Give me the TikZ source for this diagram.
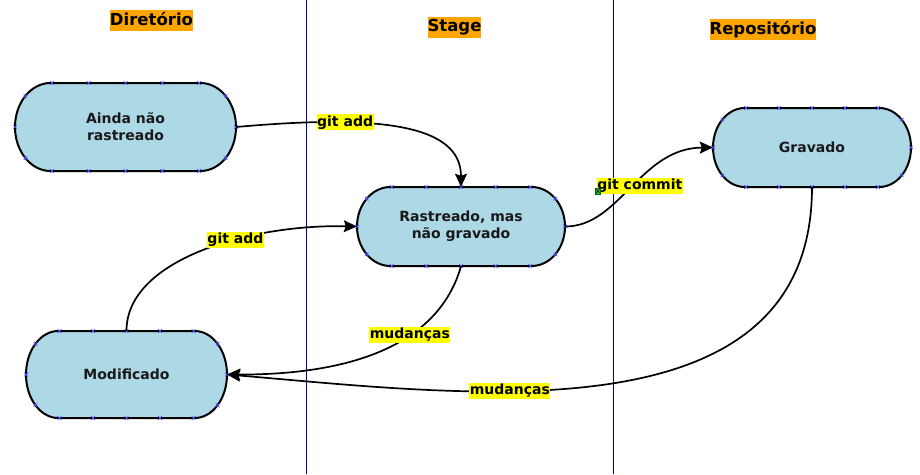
\documentclass[tikz,border=0pt]{standalone}
\usepackage{fontspec}
\setmainfont{DejaVu Sans}
\usetikzlibrary{arrows.meta,backgrounds}
\definecolor{nodeblue}{HTML}{ADD8E6}
\definecolor{hdrorange}{HTML}{FFA500}
\definecolor{lblyellow}{HTML}{FFFF00}
\definecolor{colline}{HTML}{000090}
\definecolor{gluecol}{HTML}{5050FF}
\definecolor{handlegreen}{HTML}{33CC33}
\tikzset{
  termtext/.style={inner sep=0pt, align=center, text=black!90, font=\fontsize{14}{16.7}\selectfont\bfseries},
  termline/.style={draw=black, line width=2pt, fill=nodeblue},
  gluemark/.style={draw=gluecol, line width=0.7pt},
  header/.style={fill=hdrorange, inner xsep=0pt, inner ysep=2.5pt, text height=12.5pt, text depth=3.5pt, font=\fontsize{16.5}{19}\selectfont\bfseries},
  lbl/.style={fill=lblyellow, inner xsep=0.5pt, inner ysep=1.25pt, text height=10.5pt, text depth=3pt, font=\fontsize{14}{16}\selectfont\bfseries},
  conn/.style={draw=black, line width=1.7pt, -{Stealth[length=13pt,width=12pt,inset=2pt]}},
  colsep/.style={draw=colline, line width=1pt},
}
\newcommand\gluex[2]{\draw[gluemark] (#1,#2) +(-1.8,-1.8) -- +(1.8,1.8) +(-1.8,1.8) -- +(1.8,-1.8);}
\newcommand\termnode[6]{%
  \node[termtext, minimum width=#4pt, minimum height=#5pt] (#1) at (#2,#3) {#6};
  \pgfmathsetmacro\TmRx{0.1606*#4}%
  \pgfmathsetmacro\TmRy{#5/2}%
  \pgfmathsetmacro\TmL{#2-#4/2}%
  \pgfmathsetmacro\TmR{#2+#4/2}%
  \pgfmathsetmacro\TmT{#3-#5/2}%
  \pgfmathsetmacro\TmB{#3+#5/2}%
  \begin{pgfonlayer}{background}
  \draw[termline] (\TmL+\TmRx,\TmT) -- (\TmR-\TmRx,\TmT)
     arc[start angle=90,end angle=-90,x radius=\TmRx pt,y radius=\TmRy pt]
     -- (\TmL+\TmRx,\TmB)
     arc[start angle=270,end angle=90,x radius=\TmRx pt,y radius=\TmRy pt] -- cycle;
  \end{pgfonlayer}
  \foreach \k in {1,...,5} {\gluex{\TmL+\k*#4/6}{\TmT}\gluex{\TmL+\k*#4/6}{\TmB}}
  \gluex{\TmL}{#3}\gluex{\TmR}{#3}
  \gluex{\TmL+0.2929*\TmRx}{#3-0.7071*\TmRy}\gluex{\TmL+0.2929*\TmRx}{#3+0.7071*\TmRy}
  \gluex{\TmR-0.2929*\TmRx}{#3-0.7071*\TmRy}\gluex{\TmR-0.2929*\TmRx}{#3+0.7071*\TmRy}
}
\begin{document}
\begin{tikzpicture}[x=1pt,y=-1pt]
\useasboundingbox (0,0) rectangle (920,474);
\begin{pgfonlayer}{background}
\fill[white] (0,0) rectangle (920,474);
\end{pgfonlayer}
% column separators
\draw[colsep] (306.5,0) -- (306.5,474);
\draw[colsep] (613.5,0) -- (613.5,474);
% headers
\node[header] (hdir) at (151.5,20.5) {Diretório};
\node[header] (hstage) at (454.5,27) {Stage};
\node[header] (hrepo) at (763,29.5) {Repositório};
% states
\termnode{ainda}{125.5}{127}{221}{88}{Ainda não\\rastreado}
\termnode{rast}{461}{226.5}{208}{79}{Rastreado, mas\\não gravado}
\termnode{modif}{126.5}{374.5}{201}{87}{Modificado}
\termnode{grav}{812}{147.5}{198}{79}{Gravado}
% connectors
\draw[conn] (ainda.east) .. controls +(144,-13) and +(0,-62) .. (rast.north)
  node[lbl,pos=0.29] (l1) {git add};
\draw[conn] (modif.north) .. controls +(0,-71) and +(-107,-2.5) .. (rast.west)
  node[lbl,pos=0.62] (l2) {git add};
\draw[conn] (rast.south) .. controls +(-21,74) and +(133,0.5) .. (modif.east)
  node[lbl,pos=0.39] (l3) {mudanças};
\draw[conn] (rast.east) .. controls +(55,0) and +(-73,0.5) .. (grav.west)
  node[lbl,pos=0.54,xshift=2.5pt,yshift=-3.5pt] (l4) {git commit};
\draw[conn] (grav.south) .. controls +(0,253) and +(243,20.5) .. (modif.east)
  node[lbl,pos=0.637] (l5) {mudanças};
% small handle
\draw[fill=handlegreen, draw=black!60!green, line width=0.5pt] (595,188.5) rectangle (600.5,194);
\draw[black, line width=0.4pt] (595.8,189.3) -- (599.7,193.2) (595.8,193.2) -- (599.7,189.3);
\end{tikzpicture}
\end{document}
